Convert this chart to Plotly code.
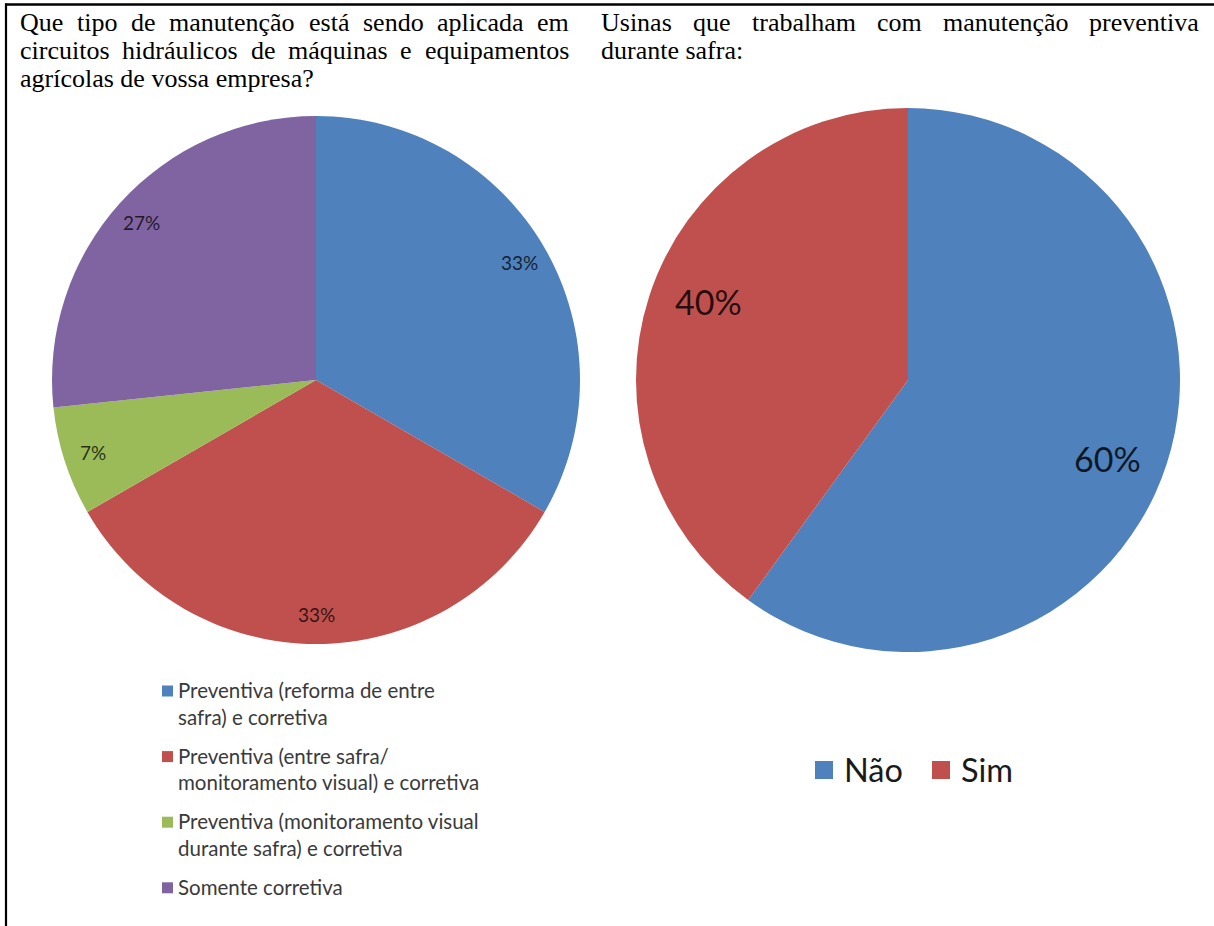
import math
import plotly.graph_objects as go

W, H = 1214, 926

# ---------------- data ----------------
left_categories = [
    "Preventiva (reforma de entre safra) e corretiva",
    "Preventiva (entre safra/ monitoramento visual) e corretiva",
    "Preventiva (monitoramento visual durante safra) e corretiva",
    "Somente corretiva",
]
left_legend_lines = [
    ["Preventiva (reforma de entre", "safra) e corretiva"],
    ["Preventiva (entre safra/", "monitoramento visual) e corretiva"],
    ["Preventiva (monitoramento visual", "durante safra) e corretiva"],
    ["Somente corretiva"],
]
left_values = [5, 5, 1, 4]

right_categories = ["Não", "Sim"]
right_values = [60, 40]

left_title_lines = [
    "Que tipo de manutenção está sendo aplicada em",
    "circuitos hidráulicos de máquinas e equipamentos",
    "agrícolas de vossa empresa?",
]
right_title_lines = [
    "Usinas que trabalham com manutenção preventiva",
    "durante safra:",
]

# ---------------- styles ----------------
left_colors = ["#4F81BD", "#C0504D", "#9BBB59", "#8064A2"]
right_colors = ["#4F81BD", "#C0504D"]

L_CX, L_CY, L_R = 316, 380, 264
R_CX, R_CY, R_R = 908, 380, 272


def px(x):
    return x / W


def py(y):
    return 1 - y / H


# Times-Roman widths (1/1000 em)
TIMES = {
    'a': 444, 'b': 500, 'c': 444, 'd': 500, 'e': 444, 'f': 333, 'g': 500, 'h': 500,
    'i': 278, 'j': 278, 'k': 500, 'l': 278, 'm': 778, 'n': 500, 'o': 500, 'p': 500,
    'q': 500, 'r': 333, 's': 389, 't': 278, 'u': 500, 'v': 500, 'w': 722, 'x': 500,
    'y': 500, 'z': 444, 'Q': 722, 'U': 722, '?': 444, ':': 278, ' ': 250,
    'á': 444, 'ã': 444, 'ç': 444, 'í': 278, 'é': 444, 'ó': 500, 'ê': 444,
}
TITLE_SIZE = 26


def tw(s, size=TITLE_SIZE):
    return sum(TIMES.get(c, 500) for c in s) / 1000 * size


fig = go.Figure()


def domain(cx, cy, r):
    return dict(x=[px(cx - r), px(cx + r)], y=[py(cy + r), py(cy - r)])


fig.add_trace(go.Pie(
    labels=left_categories, values=left_values, sort=False, direction="clockwise",
    rotation=0, marker=dict(colors=left_colors, line=dict(width=0)),
    textinfo="none", hoverinfo="label+percent", showlegend=False,
    domain=domain(L_CX, L_CY, L_R),
))
fig.add_trace(go.Pie(
    labels=right_categories, values=right_values, sort=False, direction="clockwise",
    rotation=0, marker=dict(colors=right_colors, line=dict(width=0)),
    textinfo="none", hoverinfo="label+percent", showlegend=False,
    domain=domain(R_CX, R_CY, R_R),
))

annotations = []
shapes = []


def slice_labels(values, cx, cy, r, frac, size, color, dtheta=0.0):
    total = sum(values)
    cum = 0
    for v in values:
        mid = (cum + v / 2) / total
        cum += v
        th = 2 * math.pi * mid + math.radians(dtheta)
        x = cx + frac * r * math.sin(th)
        y = cy - frac * r * math.cos(th)
        annotations.append(dict(
            x=px(x), y=py(y), xref="paper", yref="paper", showarrow=False,
            text=f"{round(100 * v / total)}%", xanchor="center", yanchor="middle",
            font=dict(family="Lato", size=size, color=color), borderpad=0, borderwidth=0,
        ))


slice_labels(left_values, L_CX, L_CY, L_R, 0.89, 19, "rgba(0,0,0,0.75)")
slice_labels(right_values, R_CX, R_CY, R_R, 0.79, 34, "rgba(0,0,0,0.82)", dtheta=3.5)

# left legend
LEG_X_TEXT = 178
LEG_SQ_X0, LEG_SQ = 162, 11
LEG_Y0, LEG_STEP, LEG_LINE = 690, 65.6, 26.7
for i, lines in enumerate(left_legend_lines):
    y0 = LEG_Y0 + i * LEG_STEP
    shapes.append(dict(type="rect", xref="paper", yref="paper",
                       x0=px(LEG_SQ_X0), x1=px(LEG_SQ_X0 + LEG_SQ),
                       y0=py(y0 + LEG_SQ / 2 + 1), y1=py(y0 - LEG_SQ / 2 + 1),
                       fillcolor=left_colors[i], line=dict(width=0)))
    for j, ln in enumerate(lines):
        annotations.append(dict(
            x=px(LEG_X_TEXT), y=py(y0 + j * LEG_LINE), xref="paper", yref="paper",
            showarrow=False, text=ln, xanchor="left", yanchor="middle",
            font=dict(family="Lato", size=20.5, color="#3a3a3a"), borderpad=0, borderwidth=0,
        ))

# right legend
R_LEG_Y = 770
R_LEG_SQ = 18
r_leg_x = [815, 932]
for i, cat in enumerate(right_categories):
    x0 = r_leg_x[i]
    shapes.append(dict(type="rect", xref="paper", yref="paper",
                       x0=px(x0), x1=px(x0 + R_LEG_SQ),
                       y0=py(R_LEG_Y + R_LEG_SQ / 2), y1=py(R_LEG_Y - R_LEG_SQ / 2),
                       fillcolor=right_colors[i], line=dict(width=0)))
    annotations.append(dict(
        x=px(x0 + R_LEG_SQ + 11), y=py(R_LEG_Y - 1), xref="paper", yref="paper",
        showarrow=False, text=cat, xanchor="left", yanchor="middle",
        font=dict(family="Lato", size=32.5, color="#1a1a1a"), borderpad=0, borderwidth=0,
    ))

# titles (justified text)
TITLE_Y = [22.9, 50.5, 78.5]


def title_block(lines, x0, x1):
    for k, line in enumerate(lines):
        yc = TITLE_Y[k]
        words = line.split(" ")
        last = k == len(lines) - 1
        if last or len(words) == 1:
            annotations.append(dict(
                x=px(x0), y=py(yc), xref="paper", yref="paper", showarrow=False,
                text=line, xanchor="left", yanchor="middle",
                font=dict(family="Liberation Serif", size=TITLE_SIZE, color="black"),
                borderpad=0, borderwidth=0,
            ))
            continue
        natural = sum(tw(w) for w in words)
        gap = (x1 - x0 - natural) / (len(words) - 1)
        x = x0
        for idx, w in enumerate(words):
            if idx == len(words) - 1:
                xa, xx = "right", x1
            else:
                xa, xx = "left", x
            annotations.append(dict(
                x=px(xx), y=py(yc), xref="paper", yref="paper", showarrow=False,
                text=w, xanchor=xa, yanchor="middle",
                font=dict(family="Liberation Serif", size=TITLE_SIZE, color="black"),
                borderpad=0, borderwidth=0,
            ))
            x += tw(w) + gap


title_block(left_title_lines, 20, 569)
title_block(right_title_lines, 601, 1199)

# table borders
shapes.append(dict(type="line", xref="paper", yref="paper", x0=px(5), x1=1,
                   y0=py(4.5), y1=py(4.5), line=dict(color="black", width=2.5)))
shapes.append(dict(type="line", xref="paper", yref="paper", x0=px(6), x1=px(6),
                   y0=py(3.5), y1=0, line=dict(color="black", width=2.2)))

fig.update_layout(
    width=W, height=H, margin=dict(l=0, r=0, t=0, b=0),
    paper_bgcolor="white", plot_bgcolor="white",
    annotations=annotations, shapes=shapes, showlegend=False,
)

fig.write_html("out.html")
